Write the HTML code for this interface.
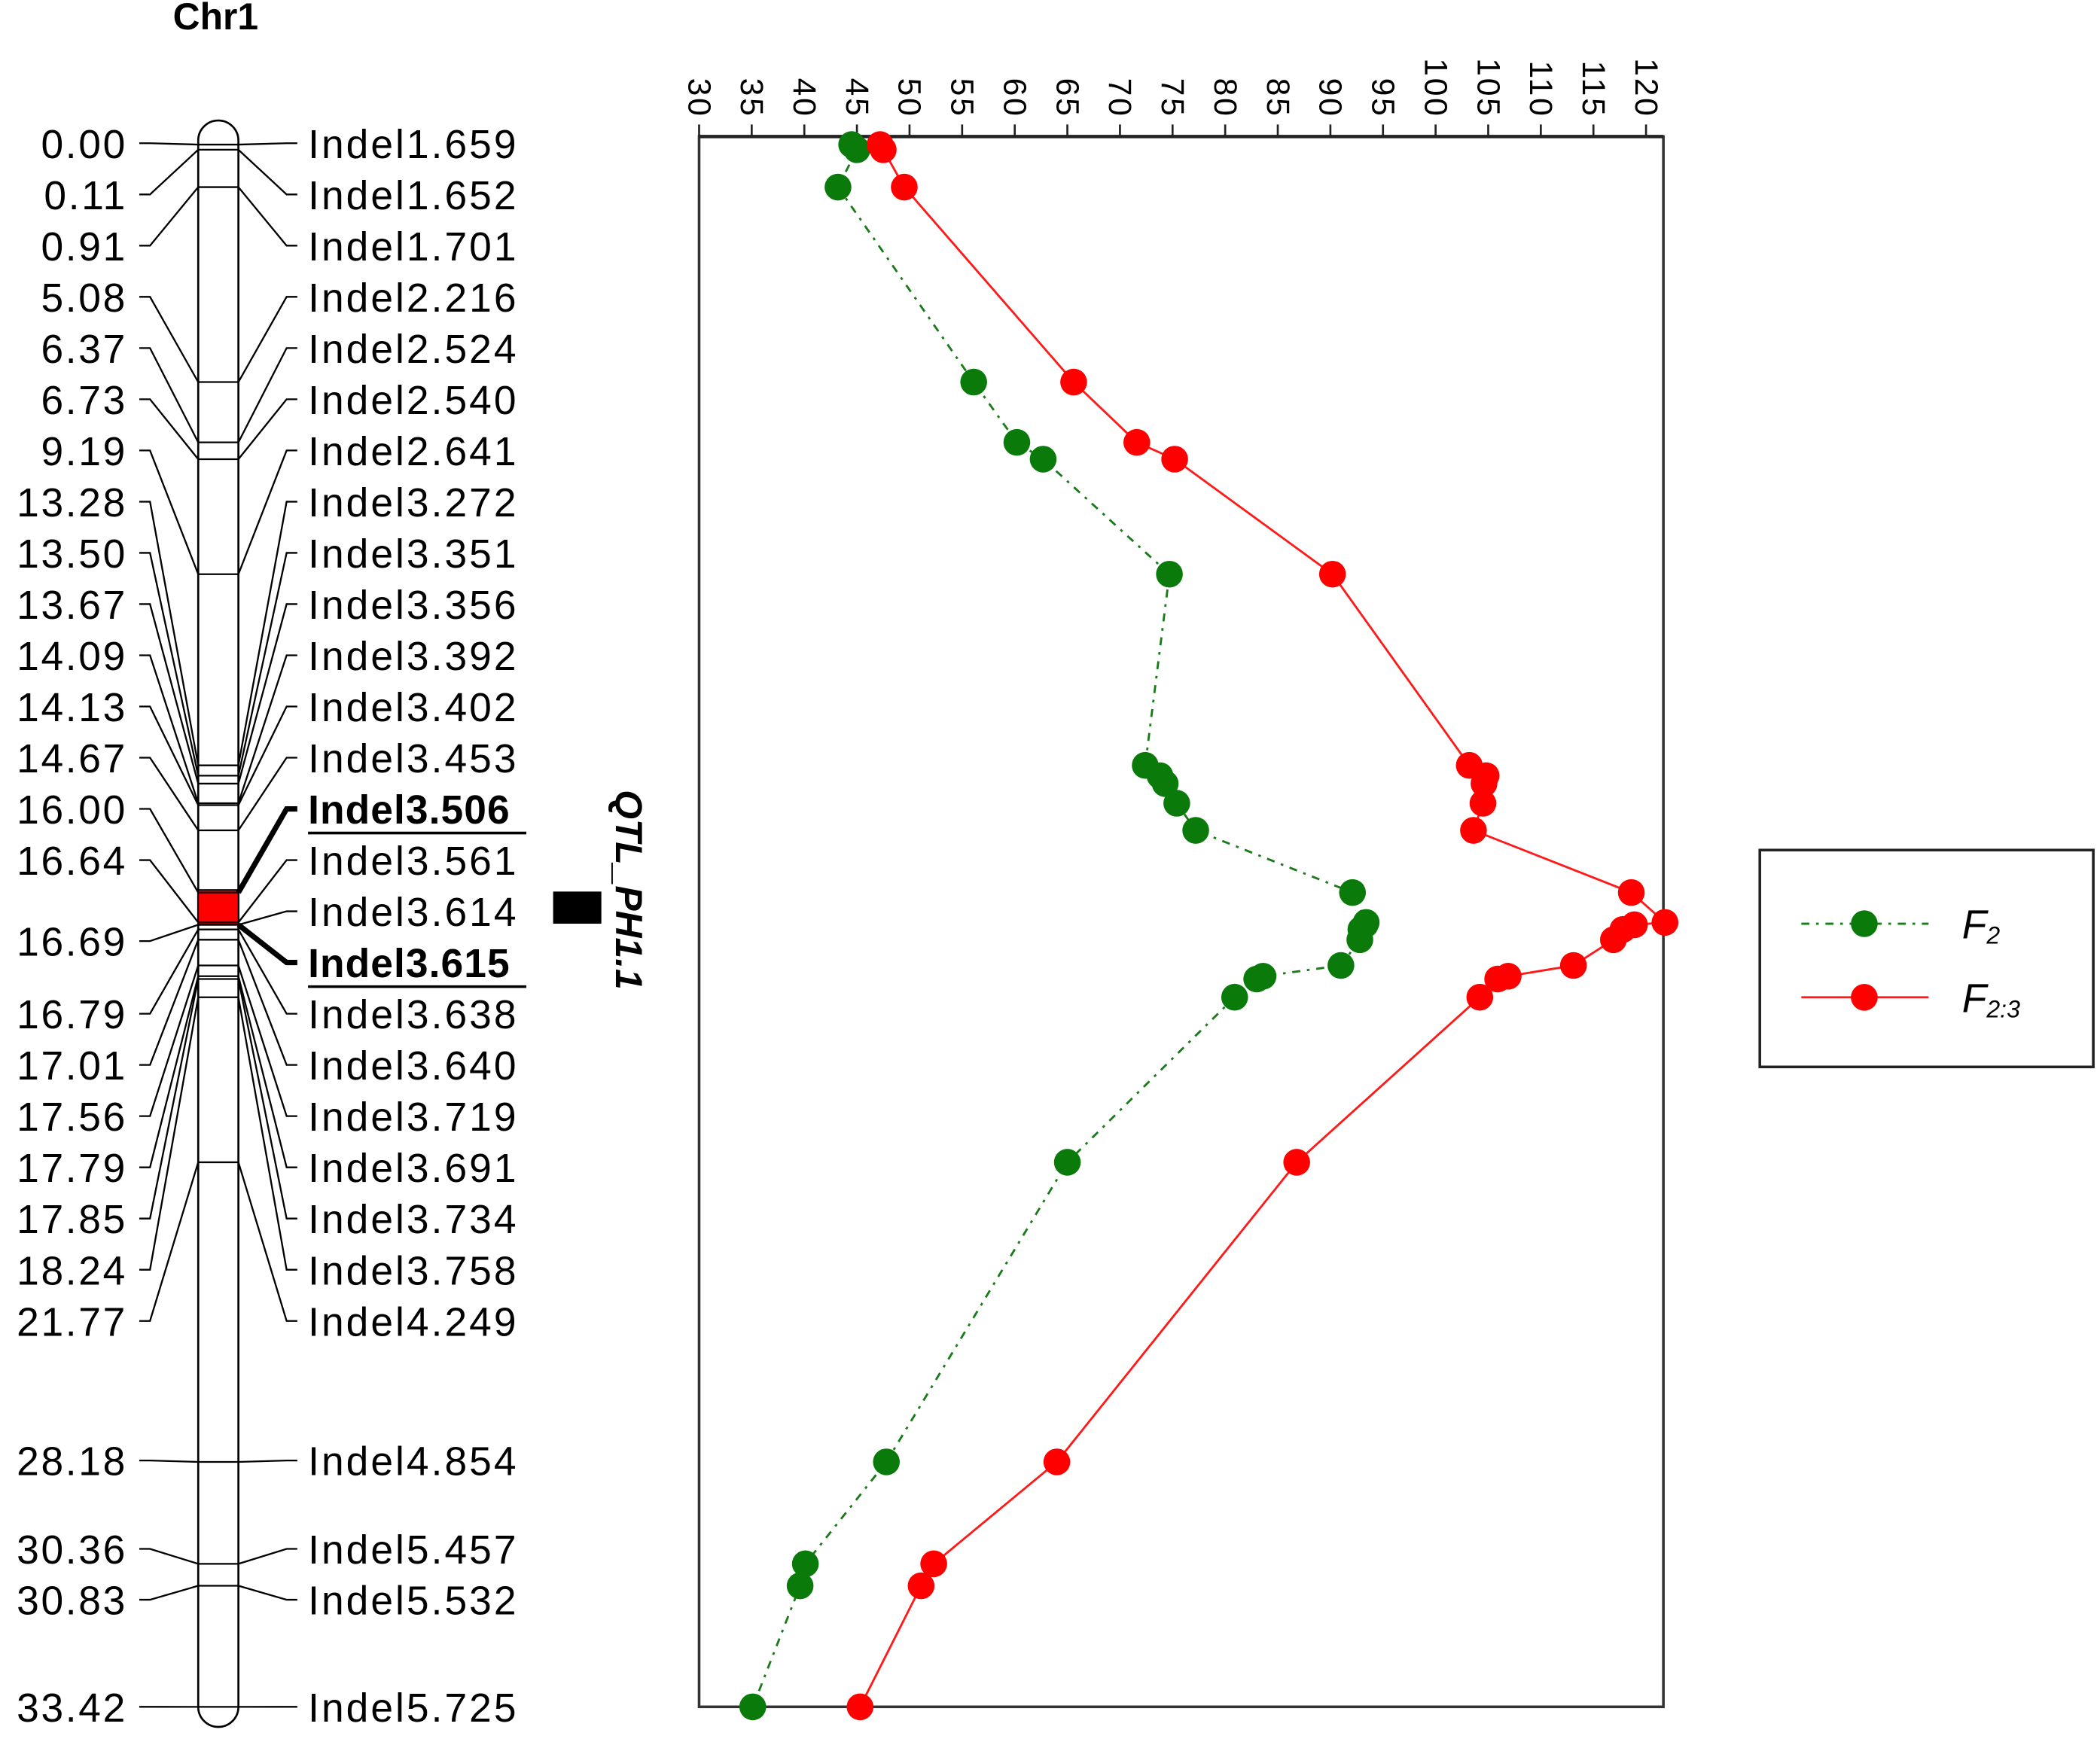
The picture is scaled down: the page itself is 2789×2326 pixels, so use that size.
<!DOCTYPE html>
<html><head><meta charset="utf-8"><style>
html,body{margin:0;padding:0;background:#fff;}
svg{display:block;}
text{font-family:"Liberation Sans",Arial,sans-serif;}
</style></head><body>
<svg id="fig" xmlns="http://www.w3.org/2000/svg" width="2789" height="2326" viewBox="0 0 1568 1308" preserveAspectRatio="none">
<rect x="0" y="0" width="1568" height="1308" fill="#fff"/>
<text x="161" y="22" font-size="28" font-weight="bold" text-anchor="middle">Chr1</text>
<g id="map"></g>
<g id="qtl">
<rect x="413" y="666" width="36" height="24" fill="#000"/>
<text transform="translate(460,590) rotate(90)" font-size="28" font-weight="bold" font-style="italic">QTL_PH1.1</text>
</g>
<g id="chart"></g>
<g id="legend">
<rect x="1314" y="635" width="249" height="162" fill="#fff" stroke="#222" stroke-width="2"/>
<line x1="1345" y1="690" x2="1440" y2="690" stroke="#1a7a1a" stroke-width="1.6" stroke-dasharray="6 5 2 5"/>
<circle cx="1392" cy="690" r="10" fill="#0a7a0a"/>
<text x="1465" y="701" font-size="30" font-style="italic">F<tspan font-size="18" dy="4">2</tspan></text>
<line x1="1345" y1="745" x2="1440" y2="745" stroke="#ff1a1a" stroke-width="1.6"/>
<circle cx="1392" cy="745" r="10" fill="#ff0000"/>
<text x="1465" y="756" font-size="30" font-style="italic">F<tspan font-size="18" dy="4">2:3</tspan></text>
</g>
</svg>
<script>
const NS="http://www.w3.org/2000/svg";
const markerNames=["Indel1.659","Indel1.652","Indel1.701","Indel2.216","Indel2.524","Indel2.540","Indel2.641","Indel3.272","Indel3.351","Indel3.356","Indel3.392","Indel3.402","Indel3.453","Indel3.506","Indel3.561","Indel3.614","Indel3.615","Indel3.638","Indel3.640","Indel3.719","Indel3.691","Indel3.734","Indel3.758","Indel4.249","Indel4.854","Indel5.457","Indel5.532","Indel5.725"];
const markerCM=[0,0.11,0.91,5.08,6.37,6.73,9.19,13.28,13.50,13.67,14.09,14.13,14.67,16.00,16.64,16.69,16.69,16.79,17.01,17.56,17.79,17.85,18.24,21.77,28.18,30.36,30.83,33.42];
const leftCM=[0,0.11,0.91,5.08,6.37,6.73,9.19,13.28,13.50,13.67,14.09,14.13,14.67,16.00,16.64,16.69,16.79,17.01,17.56,17.79,17.85,18.24,21.77,28.18,30.36,30.83,33.42];
const pointCM=[0,0.11,0.91,5.08,6.37,6.73,9.19,13.28,13.50,13.67,14.09,14.67,16.00,16.64,16.69,16.79,17.01,17.56,17.79,17.85,18.24,21.77,28.18,30.36,30.83,33.42];
const f2Values=[44.5,45.0,43.2,56.1,60.2,62.7,74.7,72.4,73.8,74.3,75.4,77.2,92.1,93.4,93.3,92.9,92.8,91.0,83.6,83.0,80.9,65.0,47.8,40.1,39.6,35.1];
const f23Values=[47.2,47.5,49.5,65.6,71.6,75.2,90.2,103.2,104.8,104.6,104.5,103.6,118.6,121.8,118.9,117.8,116.9,113.1,106.9,105.9,104.2,86.8,64.0,52.3,51.1,45.3];
const xTicks=[30,35,40,45,50,55,60,65,70,75,80,85,90,95,100,105,110,115,120];
const boldMarkers=["Indel3.506","Indel3.615"];

function yCM(c){return 108+c*34.92;}
function xVal(v){return 522+(v-30)*7.856;}
function mk(tag,attrs,parent){const e=document.createElementNS(NS,tag);for(const k in attrs)e.setAttribute(k,attrs[k]);parent.appendChild(e);return e;}

const map=document.getElementById('map');
const rightRowY=[];
for(let i=0;i<markerNames.length;i++){rightRowY.push(i<24?107+i*38.25:[1091,1157,1195,1275][i-24]);}
const leftRowY=[];
for(let i=0;i<leftCM.length;i++){
  if(i<15) leftRowY.push(rightRowY[i]);
  else if(i===15) leftRowY.push(703);
  else leftRowY.push(rightRowY[i+1]);
}
const chrom=mk('rect',{x:148,y:90,width:30,height:1200,rx:15,ry:15,fill:'#fff',stroke:'#000','stroke-width':1.5},map);


const red=mk('rect',{x:148,y:yCM(16.00)-2,width:30,height:yCM(16.69)-yCM(16.00)+2,fill:'#ff0000',stroke:'#000','stroke-width':1},map);


markerCM.forEach((c,i)=>{
  const my=yCM(c);
  const l=mk('line',{x1:148,y1:my,x2:178,y2:my,stroke:'#000','stroke-width':1.3},map);
  
  
  const bold=boldMarkers.includes(markerNames[i]);
  const ry=rightRowY[i];
  const p=mk('polyline',{points:`178,${my} 214,${ry} 222,${ry}`,fill:'none',stroke:'#000','stroke-width':bold?4:1.3},map);
  
  
  const t=mk('text',{x:230,y:ry+11,'font-size':30,'letter-spacing':bold?0.6:1.7},map);
  if(bold){t.setAttribute('font-weight','bold');}
  t.textContent=markerNames[i];
  
  
  if(bold){const u=mk('line',{x1:230,y1:ry+18,x2:393,y2:ry+18,stroke:'#000','stroke-width':2},map);
    
    }
});
leftCM.forEach((c,i)=>{
  const my=yCM(c),ly=leftRowY[i];
  const p=mk('polyline',{points:`104,${ly} 112,${ly} 148,${my}`,fill:'none',stroke:'#000','stroke-width':1.3},map);
  
  
  const t=mk('text',{x:95,y:ly+11,'font-size':30,'text-anchor':'end','letter-spacing':1.5},map);
  t.textContent=c.toFixed(2);
  
  
});

const ch=document.getElementById('chart');
const box=mk('rect',{x:522,y:102,width:720,height:1173,fill:'none',stroke:'#333','stroke-width':2},ch);


const ax=mk('line',{x1:522,y1:102,x2:1242,y2:102,stroke:'#222','stroke-width':2.5},ch);


xTicks.forEach(v=>{
  const x=xVal(v);
  const tk=mk('line',{x1:x,y1:93,x2:x,y2:102,stroke:'#222','stroke-width':1.5},ch);
  
  
  const t=mk('text',{transform:`translate(${x-8},88) rotate(90)`,'font-size':24,'text-anchor':'end','letter-spacing':1.5},ch);
  t.textContent=v;
  
  
});
function series(vals,color,dash,name){
  const pts=vals.map((v,i)=>`${xVal(v)},${yCM(pointCM[i])}`).join(' ');
  const pl=mk('polyline',{points:pts,fill:'none',stroke:color,'stroke-width':1.6},ch);
  if(dash)pl.setAttribute('stroke-dasharray',dash);
  
  
  vals.forEach((v,i)=>{
    const c=mk('circle',{cx:xVal(v),cy:yCM(pointCM[i]),r:10,fill:color==='#1a7a1a'?'#0a7a0a':'#ff0000'},ch);
    
    
  });
}
series(f2Values,'#1a7a1a','6 5 2 5','f2');
series(f23Values,'#ff1a1a',null,'f23');
</script>
</body></html>
